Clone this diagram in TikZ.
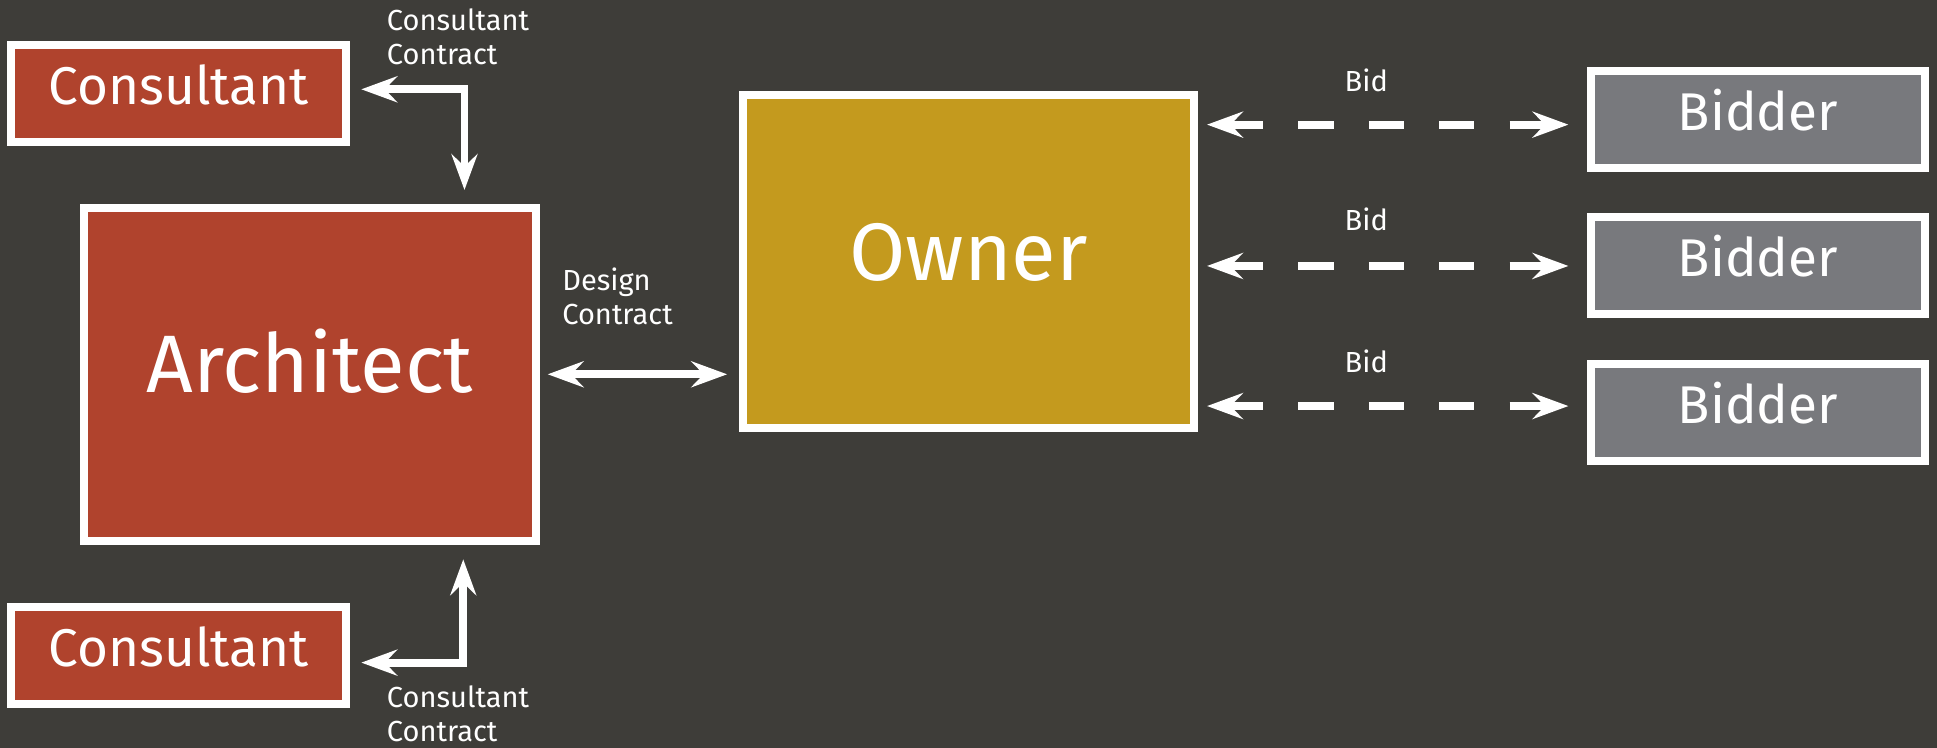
\documentclass[tikz,border=0pt]{standalone}
\usepackage{fontspec}
\setmainfont{Fira Sans}
\usetikzlibrary{arrows.meta}
\definecolor{bgcol}{RGB}{62,61,57}
\definecolor{redbox}{RGB}{176,67,45}
\definecolor{goldbox}{RGB}{196,154,30}
\definecolor{graybox}{RGB}{120,121,125}
\tikzset{
  box/.style={draw=white, line width=6.5pt, text=white, inner sep=0pt, text depth=0pt},
  smallbox/.style={box, minimum width=270.5pt, minimum height=78.5pt, text height=17.5pt,
    font=\fontsize{43}{50}\selectfont},
  bigbox/.style={box, minimum width=365.5pt, minimum height=269.5pt, text height=30pt,
    font=\fontsize{66}{76}\selectfont},
  lbl/.style={text=white, inner sep=0pt, align=left, font=\fontsize{23.5}{28}\selectfont},
  conn/.style={draw=white, line width=6.3pt, >={Stealth[length=29pt, width=21pt, inset=10pt]}, <->},
  bidconn/.style={conn, dash pattern=on 28.5pt off 28.5pt}
}
\begin{document}
\begin{tikzpicture}[x=1pt,y=1pt]
\useasboundingbox (0,0) rectangle (1568,605);
\fill[bgcol] (-3,-3) rectangle (1571,608);

\node[smallbox, fill=redbox] (cons1) at (144.5,529.5) {Consultant};
\node[bigbox, fill=redbox] (arch) at (251,302) {Architect};
\node[smallbox, fill=redbox] (cons2) at (144.5,74) {Consultant};
\node[bigbox, fill=goldbox] (owner) at (784,393) {Owner};
\node[smallbox, fill=graybox] (bid1) at (1423,508) {Bidder};
\node[smallbox, fill=graybox] (bid2) at (1423,390) {Bidder};
\node[smallbox, fill=graybox] (bid3) at (1423,271) {Bidder};

% consultant contracts
\coordinate (c1) at ([yshift=3.2pt]cons1.east);
\coordinate (a1) at ([xshift=125pt]arch.north);
\draw[conn, shorten <=9.5pt, shorten >=11.2pt] (c1) -| (a1);
\coordinate (c2) at ([yshift=-5.4pt]cons2.east);
\coordinate (a2) at ([xshift=124pt]arch.south);
\draw[conn, shorten <=9.5pt, shorten >=11.8pt] (c2) -| (a2);

% design contract
\draw[conn, shorten <=6.4pt, shorten >=9.4pt] (arch.east) -- (arch.east -| owner.west);

% bids
\coordinate (b1) at ([yshift=-3.9pt]bid1.west);
\coordinate (b2) at ([yshift=-0.3pt]bid2.west);
\coordinate (b3) at ([yshift=5.3pt]bid3.west);
\draw[bidconn, shorten <=7.1pt, shorten >=14.9pt] (owner.east |- b1) -- (b1);
\draw[bidconn, shorten <=7.1pt, shorten >=14.9pt] (owner.east |- b2) -- (b2);
\draw[bidconn, shorten <=7.1pt, shorten >=14.9pt] (owner.east |- b3) -- (b3);

% labels (base anchor = baseline of the last line)
\node[lbl, anchor=base west] (l1) at (313,552.4) {Consultant\\Contract};
\node[lbl, anchor=base west] (l2) at (313,4.6) {Consultant\\Contract};
\node[lbl, anchor=base west] (l3) at (455,342) {Design\\Contract};
\node[lbl, anchor=base] (l4) at (1106,530.8) {Bid};
\node[lbl, anchor=base] (l5) at (1106,418.3) {Bid};
\node[lbl, anchor=base] (l6) at (1106,303.3) {Bid};
\end{tikzpicture}
\end{document}
